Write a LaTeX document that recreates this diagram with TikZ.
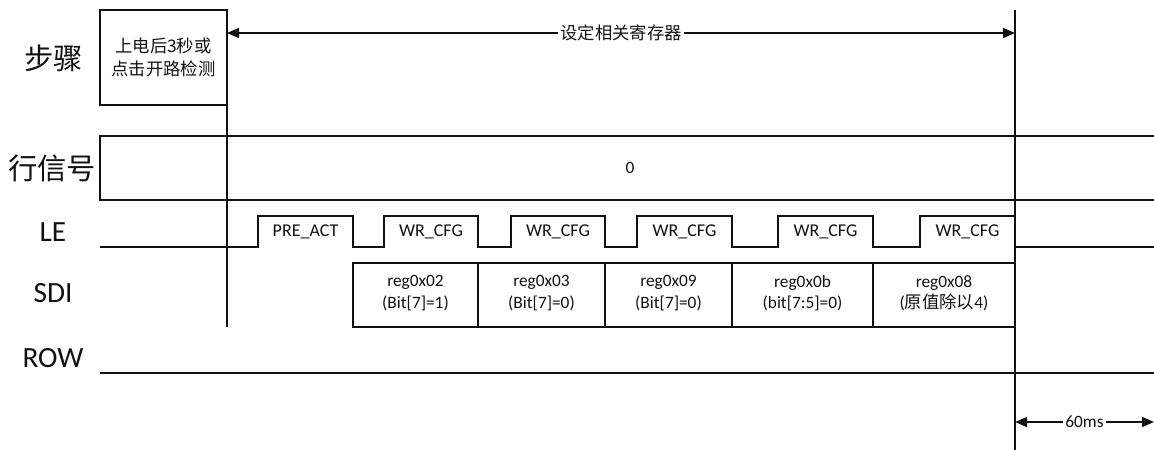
\documentclass[tikz,border=0pt]{standalone}
\usepackage{fontspec}
\setmainfont{Carlito}
\newfontfamily\cjk{Noto Sans CJK SC}
\usetikzlibrary{arrows.meta,positioning,calc}
\definecolor{ink}{HTML}{111111}
\tikzset{>={Triangle[length=9pt,width=7.5pt]},
  sig/.style={draw=ink,line width=1.3pt},
  rowlab/.style={font=\fontsize{22}{24}\selectfont,text=ink,align=center},
  rowcjk/.style={font=\cjk\fontsize{22}{24}\selectfont,text=ink,align=center},
  stepbox/.style={draw=ink,line width=1.3pt,minimum width=95.25pt,minimum height=71.25pt,
    font=\cjk\fontsize{13}{17}\selectfont,text=ink,align=center,inner sep=1pt,outer sep=0pt},
  letxt/.style={font=\fontsize{13.5}{15}\selectfont,text=ink},
  celltxt/.style={font=\fontsize{13}{16}\selectfont,text=ink,align=center},
  spanlab/.style={font=\fontsize{13}{15}\selectfont,text=ink,fill=white,inner sep=1.5pt}}
\begin{document}
\begin{tikzpicture}[x=0.75pt,y=-0.75pt]
\useasboundingbox (0,0) rectangle (1154,450);
% row labels
\node[rowcjk] (lStep) at (54,58) {步骤};
\node[rowcjk] (lRow) at (52,168) {行信号};
\node[rowlab] (lLE) at (53,232) {LE};
\node[rowlab] (lSDI) at (53,293) {SDI};
\node[rowlab] (lROW) at (53,358) {ROW};
% step
\node[stepbox] (pwr) at (163.5,57.5) {上电后3秒或\\点击开路检测};
\coordinate (aL) at (227,33);\coordinate (aR) at (1015,33);
\draw[sig,<->] (aL) -- node[spanlab,font=\cjk\fontsize{13}{15}\selectfont]{设定相关寄存器} (aR);
% time marks
\draw[sig] (pwr.south east) -- (227,327);
\draw[sig] (1015,10) -- (1015,450);
% row signal
\draw[sig] (1154,136) -- (100,136) -- (100,200) -- (1154,200);
\node[spanlab,fill=none] (rowVal) at (630,168) {0};
% LE
\draw[sig] (100,247) -- (258,247) -- (258,216) -- (353,216) -- (353,247) -- (384,247) -- (384,216)
  -- (478,216) -- (478,247) -- (511,247) -- (511,216) -- (605,216) -- (605,247) -- (637,247)
  -- (637,216) -- (732,216) -- (732,247) -- (778,247) -- (778,216) -- (873,216) -- (873,247)
  -- (920,247) -- (920,216) -- (1015,216) -- (1015,247) -- (1154,247);
\node[letxt] (le0) at (305.5,232) {PRE\_ACT};
\node[letxt] (le1) at (431,232) {WR\_CFG};
\node[letxt] (le2) at (558,232) {WR\_CFG};
\node[letxt] (le3) at (684.5,232) {WR\_CFG};
\node[letxt] (le4) at (825.5,232) {WR\_CFG};
\node[letxt] (le5) at (967.5,232) {WR\_CFG};
% SDI
\draw[sig] (353,263) rectangle (1015,327);
\foreach \xd in {478,605,732,873} \draw[sig] (\xd,263) -- (\xd,327);
\node[celltxt] (s1) at (415.5,293) {reg0x02\\(Bit[7]=1)};
\node[celltxt] (s2) at (541.5,293) {reg0x03\\(Bit[7]=0)};
\node[celltxt] (s3) at (668.5,293) {reg0x09\\(Bit[7]=0)};
\node[celltxt] (s4) at (802.5,293) {reg0x0b\\(bit[7:5]=0)};
\node[celltxt] (s5) at (944,293) {reg0x08\\({\cjk 原值除以}4)};
% ROW
\draw[sig] (100,373) -- (1154,373);
\coordinate (mL) at (1015,422);\coordinate (mR) at (1154,422);
\draw[sig,<->] (mL) -- node[spanlab]{60ms} (mR);
\end{tikzpicture}
\end{document}
